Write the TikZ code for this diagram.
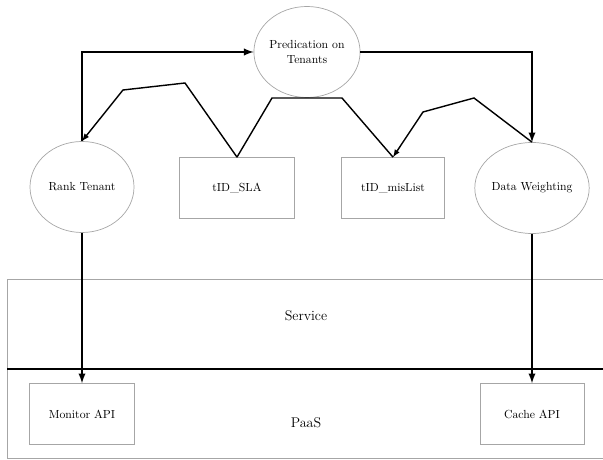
\documentclass[tikz,border=0pt]{standalone}
\usetikzlibrary{shapes.geometric}

\begin{document}
\begin{tikzpicture}[x=0.03cm,y=-0.03cm,>=latex]

% Define the looks of the parts
\tikzset{
    oval/.style={ellipse,draw=gray!70,line width=0.6pt,minimum width=3.12cm,minimum height=2.73cm,inner sep=0pt},
    box/.style={rectangle,draw=gray!70,line width=0.6pt,minimum width=3.12cm,minimum height=1.83cm},
    flow/.style={->,black,line width=1.8pt},
    zig/.style={black,line width=1.2pt}
}

% Fix the size of the picture
\useasboundingbox (0,0) rectangle (603,460);

% Draw the two layers
\draw[gray!70,line width=0.6pt] (7,279) rectangle (640,458);
\draw[black,line width=1.5pt] (7,369) -- (603,369);
\node[font=\large] (service) at (306,316) {Service};
\node[font=\large] (paas) at (306,423) {PaaS};

% Draw the tenant nodes
\node[oval,align=center] (pred) at (307,52) {Predication on\\Tenants};
\node[oval] (rank) at (82,187) {Rank Tenant};
\node[oval] (weight) at (532,188) {Data Weighting};
\node[box,minimum width=3.45cm] (sla) at (237,188) {tID\_SLA};
\node[box,minimum width=3.09cm] (mis) at (393,188) {tID\_misList};

% Draw the API boxes
\node[box,minimum width=3.15cm] (monitor) at (82,414) {Monitor API};
\node[box] (cache) at (532,414) {Cache API};

% Draw the main arrows
\draw[flow] (rank.north) -- (82,52) -- (pred.west);
\draw[flow] (pred.east) -- (532,52) -- (weight.north);
\draw[flow] (rank.south) -- (monitor.north);
\draw[flow] (weight.south) -- (cache.north);

% Draw the zigzag lines
\draw[zig,->] (sla.north) -- (185,83) -- (123,90) -- (rank.north);
\draw[zig] (sla.north) -- (272,98) -- (342,98) -- (mis.north);
\draw[zig,->] (weight.north) -- (474,98) -- (423,112) -- (mis.north);

\end{tikzpicture}
\end{document}
